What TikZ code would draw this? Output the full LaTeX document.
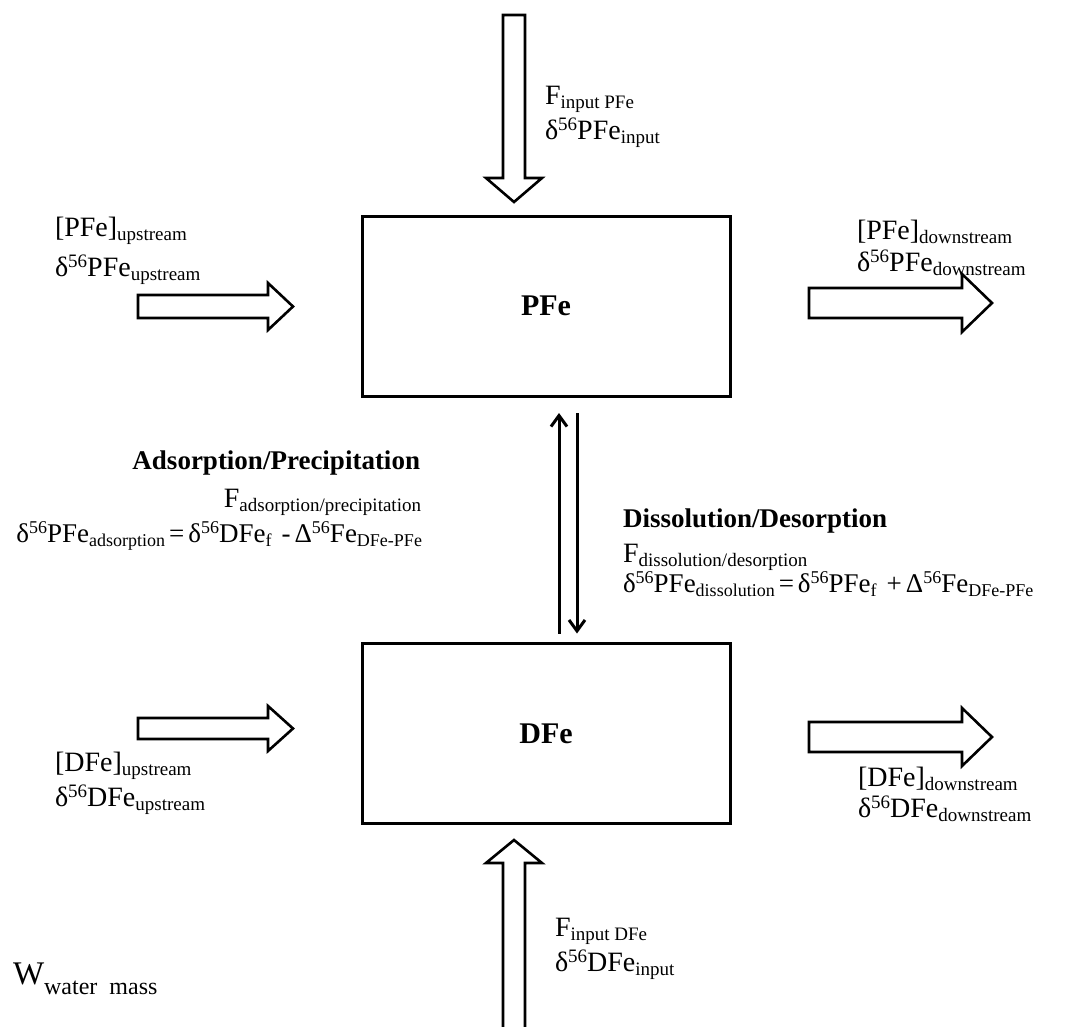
\documentclass[tikz,border=0pt]{standalone}
\usepackage{fontspec}
\setmainfont{Liberation Serif}
\usetikzlibrary{arrows.meta,calc}

% small lowered / raised text for subscripts and isotope superscripts
\newcommand\lo[1]{\raisebox{-4pt}{\fontsize{19}{19}\selectfont #1}}
\newcommand\hi[1]{\raisebox{9pt}{\fontsize{19}{19}\selectfont #1}}
\newcommand\dd{δ\hi{56}}
% slightly smaller variants for the fractionation equations
\newcommand\elo[1]{\raisebox{-4pt}{\fontsize{18}{18}\selectfont #1}}
\newcommand\ehi[1]{\raisebox{9pt}{\fontsize{18}{18}\selectfont #1}}
\newcommand\edd{δ\ehi{56}}
\newcommand\gap{\hspace{4pt}}

\begin{document}
\begin{tikzpicture}[x=1pt,y=-1pt,
  every node/.style={inner sep=0pt,outer sep=0pt},
  lbl/.style={font=\fontsize{28}{34}\selectfont,anchor=base west},
  lblr/.style={font=\fontsize{28}{34}\selectfont,anchor=base east},
  eqn/.style={font=\fontsize{27}{30}\selectfont},
  proc/.style={font=\fontsize{27}{30}\selectfont\bfseries},
  box/.style={draw,line width=3pt,minimum width=368pt,minimum height=180pt,
              font=\fontsize{30}{30}\selectfont\bfseries},
  fat/.style={draw,line width=2.6pt,fill=white,line join=miter},
  flux/.style={line width=3pt,-{Straight Barb[length=11pt,width=16pt]}}]

\useasboundingbox[fill=white] (0,0) rectangle (1082,1026);
\begin{scope}
\clip (0,0) rectangle (1082,1026);

% reservoirs
\node[box] (pfe) at (546,306) {PFe};
\node[box] (dfe) at (546,733.5) {DFe};

% exchange fluxes between the two pools
\draw[flux] ($(dfe.north)+(13,-10)$) -- ($(pfe.south)+(13,17)$);
\draw[flux] ($(pfe.south)+(31,17)$) -- ($(dfe.north)+(31,-10)$);

% external fluxes (block arrows)
\draw[fat] (503,15) -- (525,15) -- (525,178) -- (542,178) -- (514,202)
           -- (486,178) -- (503,178) -- cycle;
\draw[fat] (503,1040) -- (503,863) -- (486,863) -- (514,840) -- (542,863)
           -- (525,863) -- (525,1040) -- cycle;
\draw[fat] (138,295) -- (268,295) -- (268,283) -- (293,306.5) -- (268,330)
           -- (268,318) -- (138,318) -- cycle;
\draw[fat] (138,718) -- (268,718) -- (268,706) -- (293,728.5) -- (268,751)
           -- (268,739) -- (138,739) -- cycle;
\draw[fat] (809,288) -- (962,288) -- (962,274) -- (992,303) -- (962,332)
           -- (962,318) -- (809,318) -- cycle;
\draw[fat] (809,722) -- (962,722) -- (962,708) -- (992,737) -- (962,766)
           -- (962,752) -- (809,752) -- cycle;
\end{scope}

% input to the particulate pool
\node[lbl] (inP1) at (545,104) {F\lo{input PFe}};
\node[lbl] (inP2) at (545,139) {\dd PFe\lo{input}};

% upstream / downstream particulate iron
\node[lbl] (upP1) at (55,236) {[PFe]\lo{upstream}};
\node[lbl] (upP2) at (55,276) {\dd PFe\lo{upstream}};
\node[lbl] (dnP1) at (857,239) {[PFe]\lo{downstream}};
\node[lbl] (dnP2) at (857,271) {\dd PFe\lo{downstream}};

% adsorption / precipitation
\node[proc,anchor=base east] (ads0) at (420,469) {Adsorption/Precipitation};
\node[lblr] (ads1) at (421,507) {F\lo{adsorption/precipitation}};
\node[eqn,anchor=base east] (ads2) at (422,542)
  {\edd PFe\elo{adsorption}\gap=\gap\edd DFe\elo{f}\hspace{10pt}-\gap Δ\ehi{56}Fe\elo{DFe-PFe}};

% dissolution / desorption
\node[proc,anchor=base west] (dis0) at (623,527) {Dissolution/Desorption};
\node[lbl] (dis1) at (623,562) {F\lo{dissolution/desorption}};
\node[eqn,anchor=base west] (dis2) at (623,592)
  {\edd PFe\elo{dissolution}\gap=\gap\edd PFe\elo{f}\hspace{10pt}+\gap Δ\ehi{56}Fe\elo{DFe-PFe}};

% upstream / downstream dissolved iron
\node[lbl] (upD1) at (55,771) {[DFe]\lo{upstream}};
\node[lbl] (upD2) at (55,806) {\dd DFe\lo{upstream}};
\node[lbl] (dnD1) at (858,786) {[DFe]\lo{downstream}};
\node[lbl] (dnD2) at (858,817) {\dd DFe\lo{downstream}};

% input to the dissolved pool
\node[lbl] (inD1) at (555,936) {F\lo{input DFe}};
\node[lbl] (inD2) at (555,971) {\dd DFe\lo{input}};

% water mass
\node[anchor=base west,font=\fontsize{33}{33}\selectfont] (wm) at (13,984)
  {W\raisebox{-10pt}{\fontsize{24}{24}\selectfont water\ \ mass}};
\end{tikzpicture}
\end{document}
